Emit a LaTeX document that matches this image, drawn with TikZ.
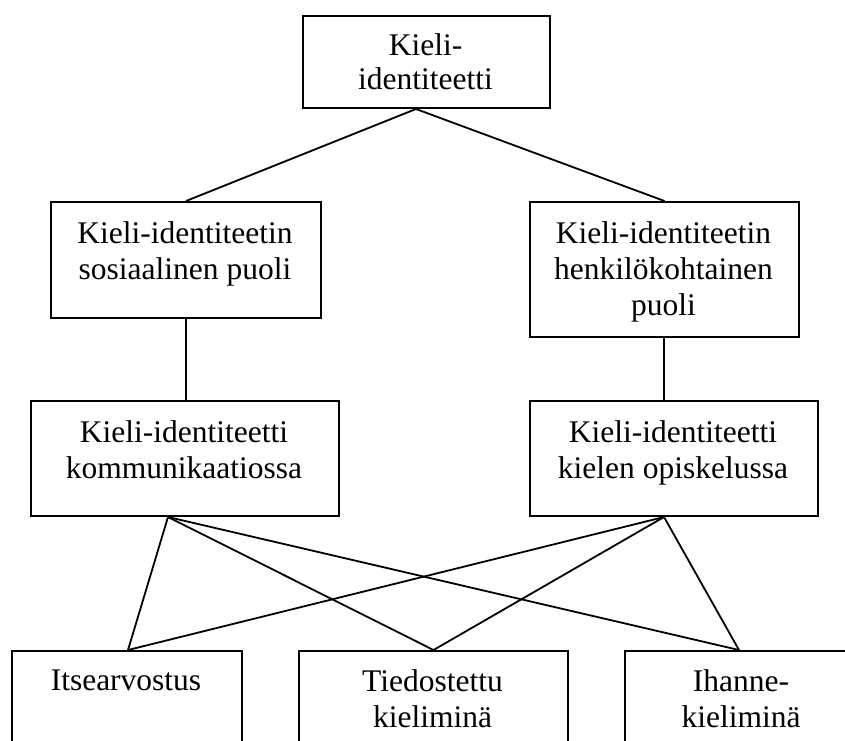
\documentclass[tikz,border=0pt]{standalone}
\usepackage{fontspec}
\setmainfont{Liberation Serif}
\usetikzlibrary{calc}
\begin{document}
\begin{tikzpicture}[x=1pt,y=-1pt,
  box/.style={draw, line width=2pt, rectangle, inner sep=0pt, anchor=north west},
  lbl/.style={font=\fontsize{31.5}{36}\selectfont, align=center, inner sep=0pt, anchor=north},
  conn/.style={line width=1.8pt}]
\useasboundingbox (0,0) rectangle (845,740);
\clip (0,0) rectangle (845,740);
% boxes
\node[box, minimum width=247pt, minimum height=92pt]  (top) at (302,15)  {};
\node[box, minimum width=270pt, minimum height=116pt] (sl)  at (50,201)  {};
\node[box, minimum width=269pt, minimum height=135pt] (hr)  at (529,201) {};
\node[box, minimum width=308pt, minimum height=115pt] (kl)  at (30,400)  {};
\node[box, minimum width=288pt, minimum height=115pt] (kr)  at (529,400) {};
\node[box, minimum width=230pt, minimum height=110pt] (b1)  at (11,650)  {};
\node[box, minimum width=269pt, minimum height=110pt] (b2)  at (298,650) {};
\node[box, minimum width=234pt, minimum height=110pt] (b3)  at (624,650) {};
% labels
\node[lbl, font=\fontsize{31.5}{34}\selectfont] (ttop) at (425.5,33) {Kieli-\\identiteetti};
\node[lbl] (tsl) at (185,221)   {Kieli-identiteetin\\sosiaalinen puoli};
\node[lbl] (thr) at (663.5,221) {Kieli-identiteetin\\henkilökohtainen\\puoli};
\node[lbl] (tkl) at (184,420)   {Kieli-identiteetti\\kommunikaatiossa};
\node[lbl] (tkr) at (673,420)   {Kieli-identiteetti\\kielen opiskelussa};
\node[lbl] (tb1) at (126,669.5) {Itsearvostus};
\node[lbl] (tb2) at (432.5,669) {Tiedostettu\\kieliminä};
\node[lbl] (tb3) at (741,669)   {Ihanne-\\kieliminä};
% connection points
\coordinate (topout) at ([xshift=-10.5pt]top.south);
\coordinate (hrout)  at ([xshift=-0.5pt]hr.south);
\coordinate (klout)  at ([xshift=-17pt]kl.south);
\coordinate (krout)  at ([xshift=-10pt]kr.south);
\coordinate (b1in)   at ([xshift=1pt]b1.north);
\coordinate (b2in)   at (b2.north);
\coordinate (b3in)   at ([xshift=-3pt]b3.north);
% connectors
\draw[conn] (topout) -- (sl.north);
\draw[conn] (topout) -- (hr.north);
\draw[conn] (sl.south) -- (sl.south |- kl.north);
\draw[conn] (hrout) -- (hrout |- kr.north);
\draw[conn] (klout) -- (b1in);
\draw[conn] (klout) -- (b2in);
\draw[conn] (klout) -- (b3in);
\draw[conn] (krout) -- (b1in);
\draw[conn] (krout) -- (b2in);
\draw[conn] (krout) -- (b3in);
\end{tikzpicture}
\end{document}
